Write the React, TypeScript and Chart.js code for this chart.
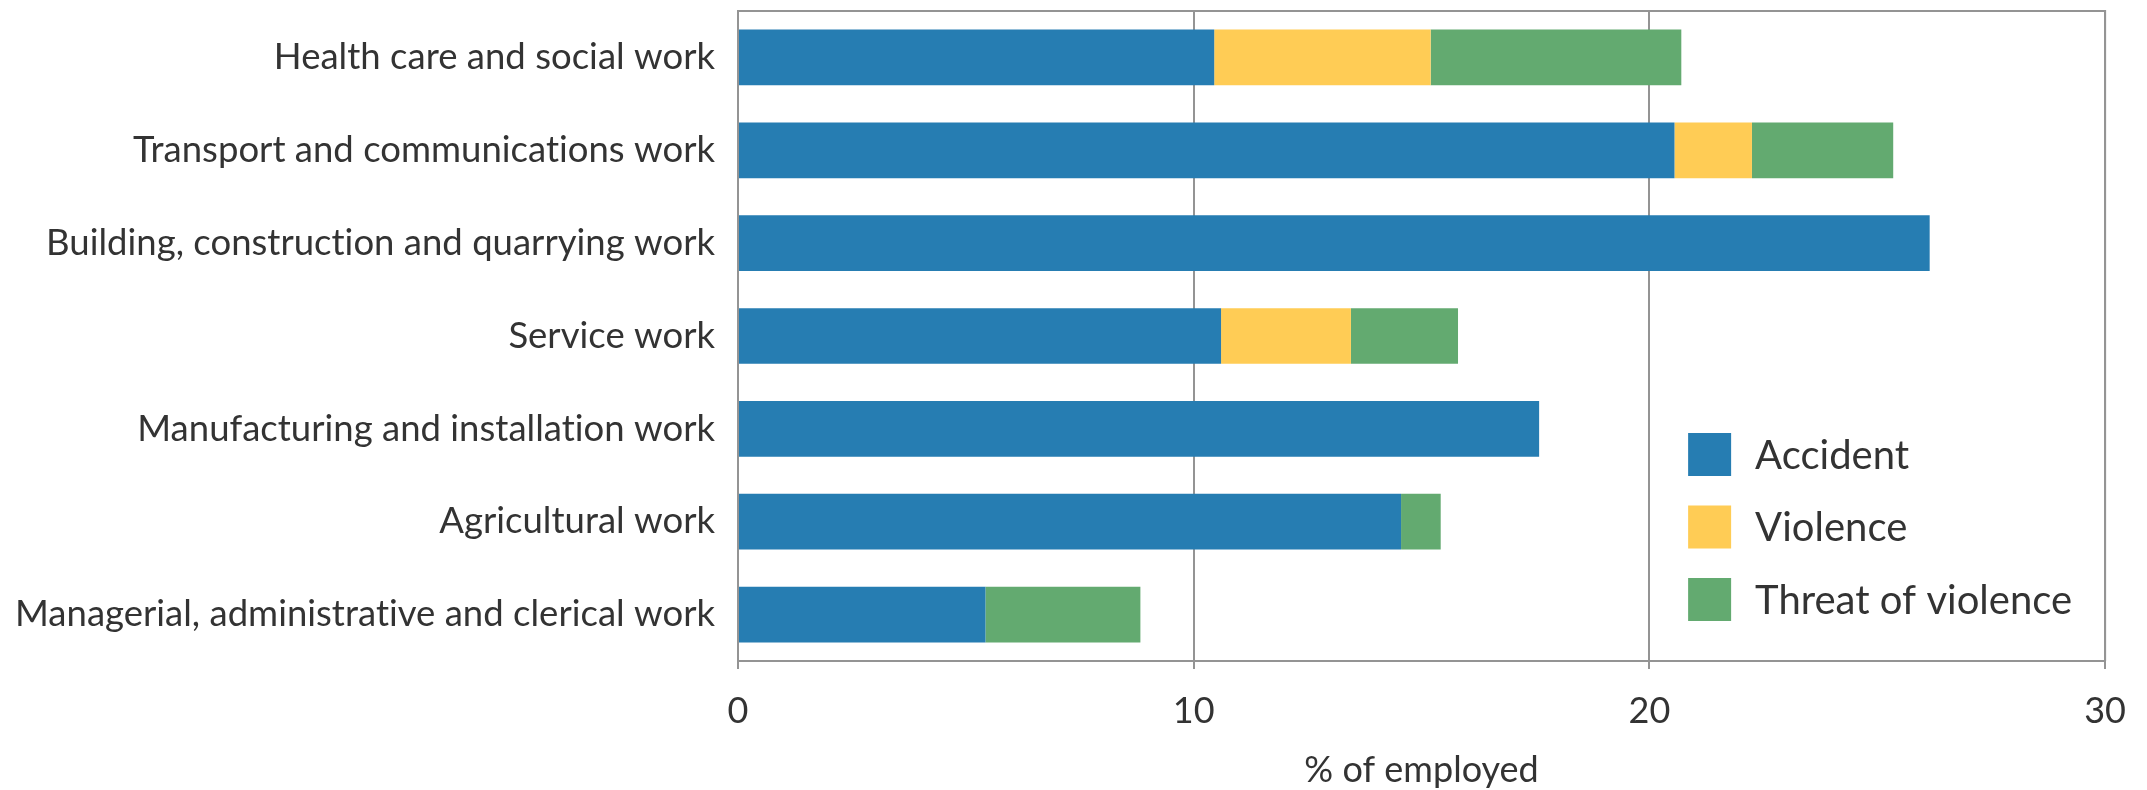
import { useEffect, useRef } from 'react';
import { Chart, registerables } from 'chart.js';

Chart.register(...registerables);

const categories = [
  'Health care and social work',
  'Transport and communications work',
  'Building, construction and quarrying work',
  'Service work',
  'Manufacturing and installation work',
  'Agricultural work',
  'Managerial, administrative and clerical work',
];
const accident = [10.45, 20.55, 26.15, 10.6, 17.58, 14.55, 5.43];
const violence = [4.75, 1.7, 0, 2.85, 0, 0, 0];
const threat = [5.5, 3.1, 0, 2.35, 0, 0.87, 3.4];
const seriesNames = ['Accident', 'Violence', 'Threat of violence'];
const seriesColors = ['#267db2', '#ffcc55', '#63aa70'];
const xMin = 0;
const xMax = 30;
const xStep = 10;
const xTitle = '% of employed';

const FONT = "Lato, 'Liberation Sans', Arial, sans-serif";
const TEXT = '#333333';
const LINE = '#949494';

// a tiny letter spacing keeps the browser from forming "ti" ligatures
const noLigatures = {
  id: 'noLigatures',
  beforeDraw(chart: any) {
    const ctx = chart.ctx as any;
    if ('letterSpacing' in ctx) ctx.letterSpacing = '0.01px';
  },
};

const framePlugin = {
  id: 'frame',
  afterDatasetsDraw(chart: any) {
    const { ctx, chartArea } = chart;
    const { left, top, right, bottom } = chartArea;
    ctx.save();
    ctx.strokeStyle = LINE;
    ctx.lineWidth = 2;
    ctx.beginPath();
    ctx.moveTo(left, top);
    ctx.lineTo(right, top);
    ctx.lineTo(right, bottom);
    ctx.stroke();
    ctx.restore();
  },
};

const legendPlugin = {
  id: 'insideLegend',
  afterDraw(chart: any) {
    const { ctx, chartArea } = chart;
    const x0 = chartArea.right - 417;
    const y0 = chartArea.bottom - 228;
    ctx.save();
    chart.data.datasets.forEach((ds: any, i: number) => {
      const y = y0 + i * 72.5;
      ctx.fillStyle = ds.backgroundColor;
      ctx.fillRect(x0, y, 43, 43);
      ctx.fillStyle = TEXT;
      ctx.font = `40px ${FONT}`;
      ctx.textBaseline = 'middle';
      ctx.textAlign = 'left';
      ctx.fillText(ds.label, x0 + 67, y + 23);
    });
    ctx.restore();
  },
};

export default function App() {
  const canvasRef = useRef<HTMLCanvasElement | null>(null);

  useEffect(() => {
    if (!canvasRef.current) return;
    const values = [accident, violence, threat];
    const chart = new Chart(canvasRef.current, {
      type: 'bar',
      data: {
        labels: categories,
        datasets: seriesNames.map((name, i) => ({
          label: name,
          data: values[i],
          backgroundColor: seriesColors[i],
          borderWidth: 0,
          barPercentage: 0.6,
          categoryPercentage: 1,
        })),
      },
      options: {
        indexAxis: 'y',
        animation: false,
        responsive: true,
        maintainAspectRatio: false,
        layout: { padding: { left: 0, right: 37, top: 11, bottom: 0 } },
        plugins: {
          legend: { display: false },
          tooltip: { enabled: false },
        },
        scales: {
          x: {
            stacked: true,
            min: xMin,
            max: xMax,
            ticks: {
              stepSize: xStep,
              color: TEXT,
              font: { family: FONT, size: 36 },
              padding: 21,
              maxRotation: 0,
            },
            grid: { color: LINE, lineWidth: 2, tickLength: 8, drawTicks: true },
            border: { display: true, color: LINE, width: 2 },
            title: {
              display: true,
              text: xTitle,
              color: TEXT,
              font: { family: FONT, size: 36 },
              padding: { top: 0, bottom: -2 },
            },
            afterFit(scale: any) {
              scale.height = 129;
            },
          },
          y: {
            stacked: true,
            ticks: {
              color: TEXT,
              font: { family: FONT, size: 36.5 },
              padding: 23,
              autoSkip: false,
            },
            grid: { display: false, drawTicks: false },
            border: { display: true, color: LINE, width: 2 },
            afterFit(scale: any) {
              scale.width = 738;
              scale.paddingTop = 0;
              scale.paddingBottom = 0;
            },
          },
        },
      },
      plugins: [noLigatures, framePlugin, legendPlugin],
    });
    return () => chart.destroy();
  }, []);

  return (
    <div style={{ position: 'fixed', left: 0, top: 0, width: 2147, height: 790, background: '#fff' }}>
      <canvas ref={canvasRef} />
    </div>
  );
}
